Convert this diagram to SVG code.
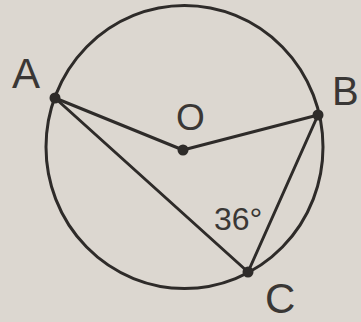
<svg xmlns="http://www.w3.org/2000/svg" width="361" height="322" viewBox="0 0 361 322">
<style>
.ln{stroke:#2e2b29;stroke-width:3;fill:none;stroke-linecap:round}
.dot{fill:#2e2b29}
.lb{font-family:"Liberation Sans",Arial,sans-serif;fill:#3a3735}
</style>
<rect width="361" height="322" fill="#dcd7d0"/>
<g id="circle"><ellipse class="ln" cx="184.5" cy="147" rx="138.5" ry="141.5"/></g>
<g id="connectors">
<line class="ln" x1="55" y1="98" x2="183" y2="150"/>
<line class="ln" x1="183" y1="150" x2="318" y2="115"/>
<line class="ln" x1="55" y1="98" x2="248" y2="272"/>
<line class="ln" x1="318" y1="115" x2="248" y2="272"/>
</g>
<g id="A"><circle class="dot" cx="55" cy="98" r="5.5"/><text class="lb" x="12" y="88" font-size="42">A</text></g>
<g id="O"><circle class="dot" cx="183" cy="150" r="5.5"/><text class="lb" x="176" y="130" font-size="37">O</text></g>
<g id="B"><circle class="dot" cx="318" cy="115" r="5.5"/><text class="lb" x="332" y="105" font-size="40">B</text></g>
<g id="C"><circle class="dot" cx="248" cy="272" r="5.5"/><text class="lb" x="265" y="313" font-size="42">C</text></g>
<g id="angle"><text class="lb" x="214" y="230" font-size="32">36°</text></g>
</svg>
